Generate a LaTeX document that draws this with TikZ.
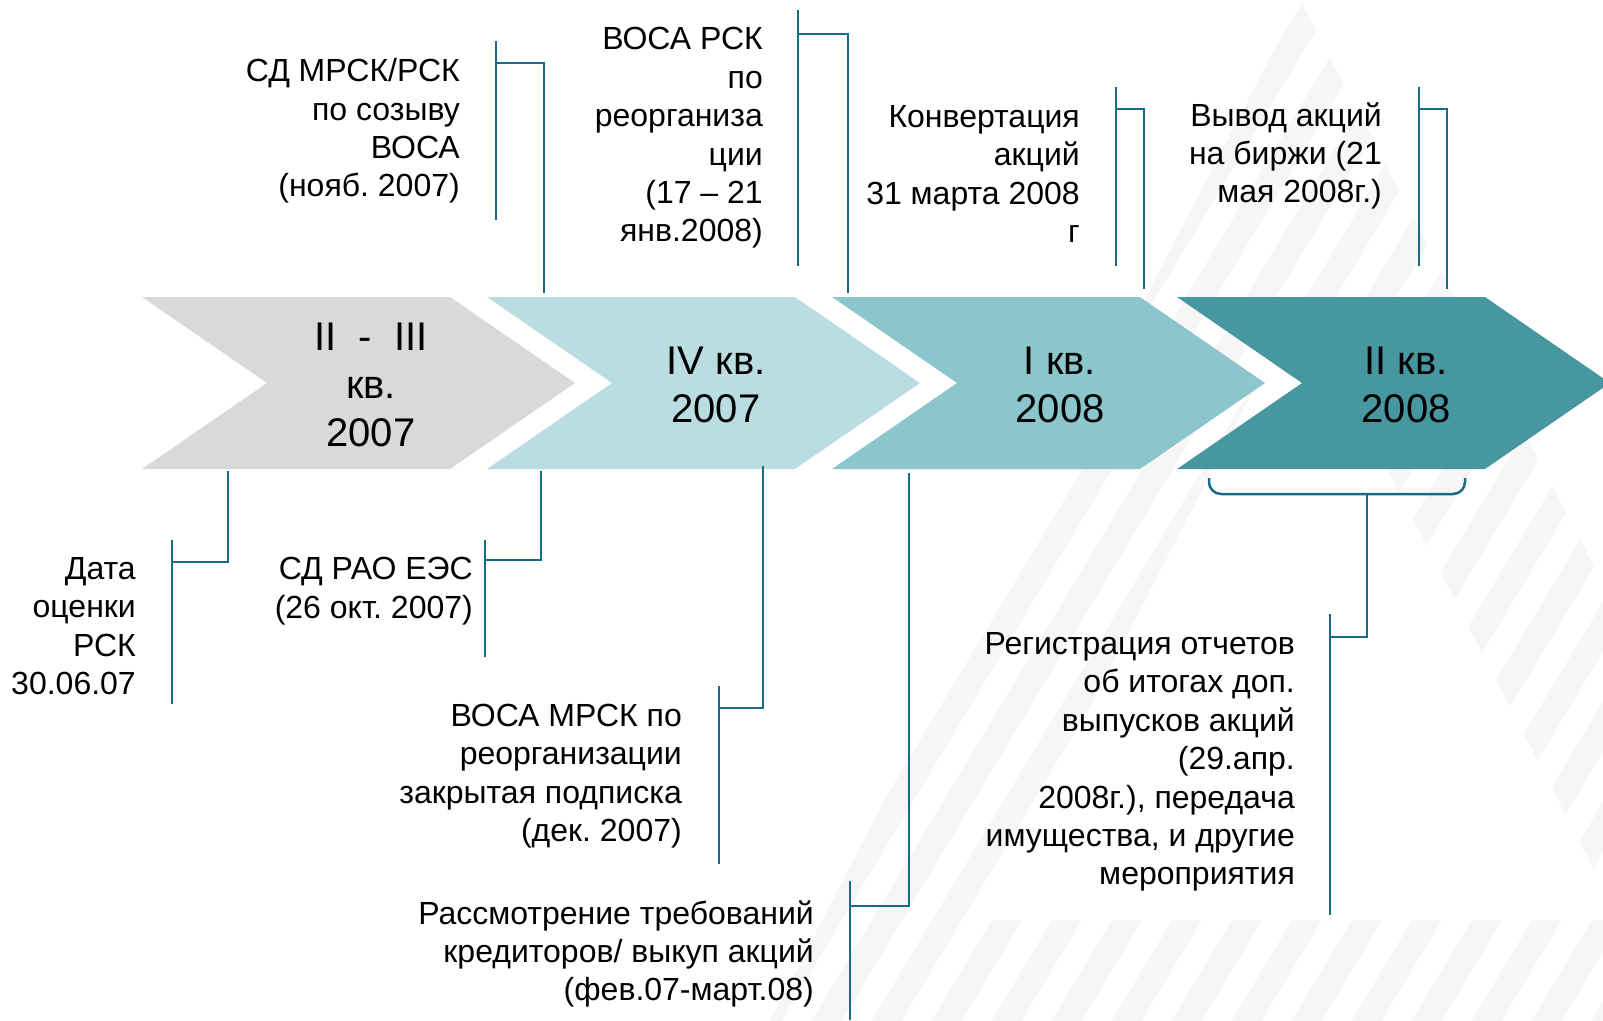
\documentclass[tikz,border=0pt]{standalone}
\usepackage{fontspec}
\setmainfont{Liberation Sans}
\frenchspacing
\definecolor{gris}{RGB}{217,217,217}
\definecolor{clair}{RGB}{185,221,225}
\definecolor{moyen}{RGB}{139,198,205}
\definecolor{fonce}{RGB}{71,151,160}
\definecolor{trait}{RGB}{23,107,135}
\definecolor{filigrane}{RGB}{246,246,246}

\begin{document}
\begin{tikzpicture}[x=1pt,y=-1pt,
  lien/.style={trait,line width=2.5pt},
  legende/.style={anchor=east,align=right,inner sep=0pt,font=\fontsize{32}{38.4}\selectfont},
  periode/.style={align=center,inner sep=0pt,font=\fontsize{40}{48}\selectfont}]
\useasboundingbox (0,0) rectangle (1603,1020);
% filigrane
\begin{scope}[even odd rule]
\clip (1300,0)--(760,1040)--(1840,1040)--cycle (1300,300)--(980,920)--(1620,920)--cycle;
\foreach \k in {0,1,...,22} {\fill[filigrane] (560+60*\k,1040) -- ++(30,0) -- ++(624,-1040) -- ++(-30,0) -- cycle;}
\end{scope}

% fleches
\foreach \i/\c in {0/gris,1/clair,2/moyen,3/fonce} {\fill[\c] (142+345*\i,297) -- ++(308,0) -- ++(125,86) -- ++(-125,86) -- ++(-308,0) -- ++(125,-86) -- cycle;}
\node[periode] (p1) at (371,385) {II\ \ -\ \ III\\кв.\\2007};
\node[periode] (p2) at (716,385) {IV кв.\\2007};
\node[periode] (p3) at (1060,385) {I кв.\\2008};
\node[periode] (p4) at (1406,385) {II кв.\\2008};

% en haut
\node[legende] (a) at (460,131) {СД МРСК/РСК\\по созыву\\ВОСА\\(нояб. 2007)};
\coordinate (a1) at (496,41); \coordinate (a2) at (496,220);
\coordinate (ah) at (496,63); \coordinate (ab) at (544,293);
\draw[lien] (a1) -- (a2); \draw[lien] (ah) -| (ab);

\node[legende] (b) at (763,138) {ВОСА РСК\\по\\реорганиза\\ции\\(17 – 21\\янв.2008)};
\coordinate (b1) at (798,10); \coordinate (b2) at (798,266);
\coordinate (bh) at (798,34); \coordinate (bb) at (848,293);
\draw[lien] (b1) -- (b2); \draw[lien] (bh) -| (bb);

\node[legende] (c) at (1080,174) {Конвертация\\акций\\31 марта 2008\\г};
\coordinate (c1) at (1116,87); \coordinate (c2) at (1116,266);
\coordinate (ch) at (1116,109); \coordinate (cb) at (1144,289);
\draw[lien] (c1) -- (c2); \draw[lien] (ch) -| (cb);

\node[legende] (d) at (1382,156) {Вывод акций\\на биржи (21\\мая 2008г.)};
\coordinate (d1) at (1419,87); \coordinate (d2) at (1419,266);
\coordinate (dh) at (1419,109); \coordinate (db) at (1447,289);
\draw[lien] (d1) -- (d2); \draw[lien] (dh) -| (db);

% en bas
\node[legende] (e) at (136,626) {Дата\\оценки\\РСК\\30.06.07};
\coordinate (e1) at (172,540); \coordinate (e2) at (172,704);
\coordinate (eh) at (172,562); \coordinate (eb) at (228,471);
\draw[lien] (e1) -- (e2); \draw[lien] (eh) -| (eb);

\node[legende] (f) at (473,591) {СД РАО ЕЭС\\(26 окт. 2007)};
\coordinate (f1) at (485,540); \coordinate (f2) at (485,657);
\coordinate (fh) at (485,560); \coordinate (fb) at (541,471);
\draw[lien] (f1) -- (f2); \draw[lien] (fh) -| (fb);

\node[legende] (g) at (682,776) {ВОСА МРСК по\\реорганизации\\закрытая подписка\\(дек. 2007)};
\coordinate (g1) at (719,686); \coordinate (g2) at (719,864);
\coordinate (gh) at (719,708); \coordinate (gb) at (763,466);
\draw[lien] (g1) -- (g2); \draw[lien] (gh) -| (gb);

\node[legende] (h) at (814,954) {Рассмотрение требований\\кредиторов/ выкуп акций\\(фев.07-март.08)};
\coordinate (h1) at (850,881); \coordinate (h2) at (850,1020);
\coordinate (hh) at (850,906); \coordinate (hb) at (909,473);
\draw[lien] (h1) -- (h2); \draw[lien] (hh) -| (hb);

\coordinate (k1) at (1209,478); \coordinate (k2) at (1465,478);
\draw[lien,rounded corners=12pt] (k1) |- (1337,494) -| (k2);
\node[legende] (i) at (1295,762) {Регистрация отчетов\\об итогах доп.\\выпусков акций\\(29.апр.\\2008г.), передача\\имущества, и другие\\мероприятия};
\coordinate (i1) at (1330,614); \coordinate (i2) at (1330,915);
\coordinate (ih) at (1330,637); \coordinate (ib) at (1367,494);
\draw[lien] (i1) -- (i2); \draw[lien] (ih) -| (ib);
\end{tikzpicture}
\end{document}
